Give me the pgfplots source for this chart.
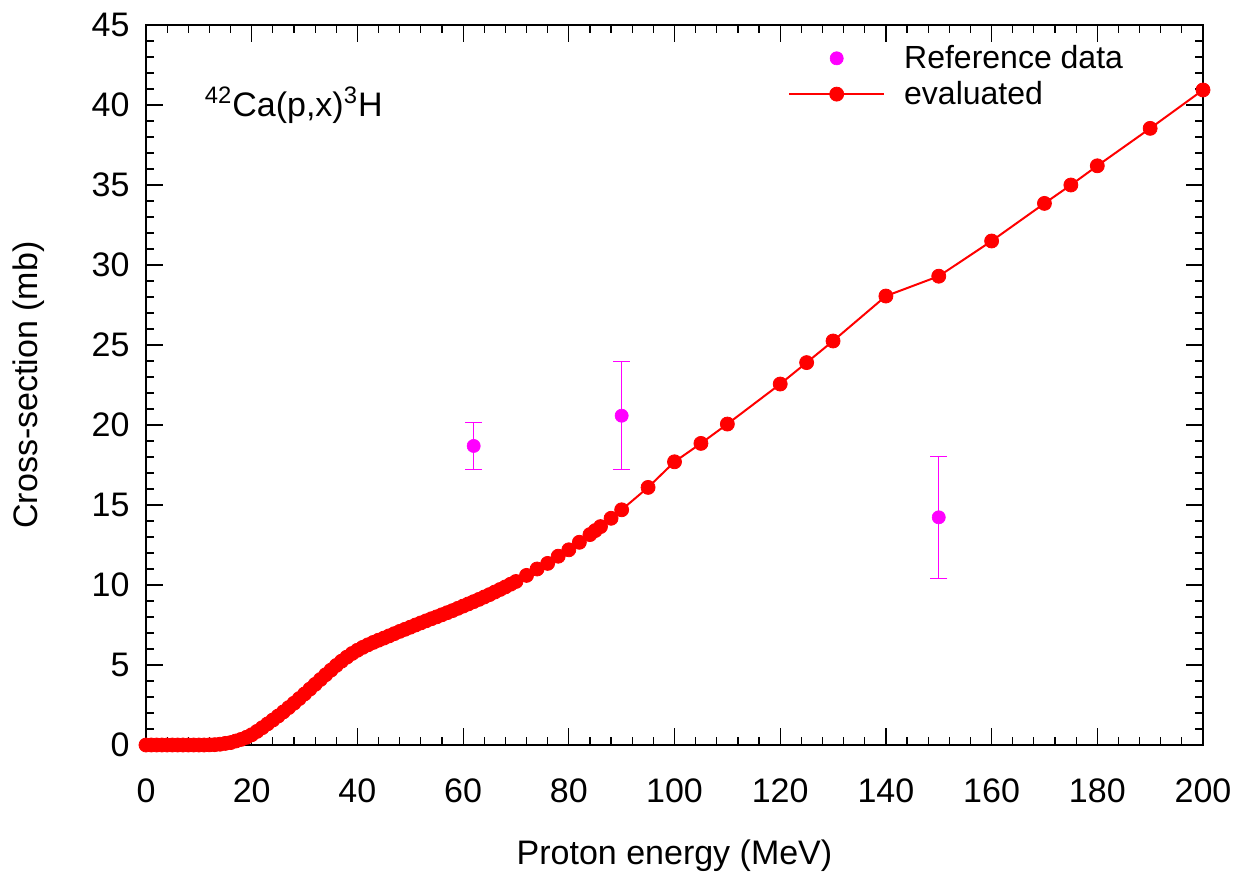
\documentclass[border=0pt]{standalone}
\usepackage{fontspec}
\setmainfont{Liberation Sans}
\usepackage{pgfplots}
\pgfplotsset{compat=1.18}
\definecolor{myred}{RGB}{255,0,0}
\definecolor{mymag}{RGB}{255,0,255}

\pgfplotstableread{
x y ep em
62 18.69 1.45 1.46
90 20.58 3.40 3.35
150 14.23 3.79 3.81
}\refdata

\pgfplotstableread{
x y
0 0.0
1 0.0
2 0.0
3 0.0
4 0.0
5 0.0
6 0.0
7 0.0
8 0.0
9 0.0
10 0.0
11 0.0
12 0.01
13 0.02
14 0.05
15 0.1
16 0.15
17 0.25
18 0.35
19 0.48
20 0.64
21 0.85
22 1.08
23 1.32
24 1.56
25 1.81
26 2.07
27 2.34
28 2.61
29 2.9
30 3.19
31 3.49
32 3.79
33 4.09
34 4.39
35 4.68
36 4.97
37 5.24
38 5.49
39 5.72
40 5.92
41 6.1
42 6.26
43 6.41
44 6.55
45 6.68
46 6.82
47 6.96
48 7.1
49 7.23
50 7.36
51 7.5
52 7.63
53 7.76
54 7.89
55 8.01
56 8.14
57 8.27
58 8.4
59 8.54
60 8.68
61 8.82
62 8.96
63 9.1
64 9.25
65 9.4
66 9.56
67 9.72
68 9.88
69 10.05
70 10.22
72 10.6
74 11.0
76 11.35
78 11.8
80 12.2
82 12.67
84 13.15
85 13.4
86 13.65
88 14.17
90 14.7
95 16.1
100 17.7
105 18.85
110 20.06
120 22.56
125 23.9
130 25.25
140 28.06
150 29.3
160 31.5
170 33.85
175 35.0
180 36.2
190 38.54
200 40.94
}\evaldata

\begin{document}
\begin{tikzpicture}
\useasboundingbox (-73pt,-66pt) rectangle (553pt,372.5pt);
\begin{axis}[
  at={(0,0)}, anchor=south west,
  scale only axis, width=528.5pt, height=360pt,
  xmin=0, xmax=200, ymin=0, ymax=45,
  xtick={0,20,...,200}, ytick={0,5,...,45},
  minor x tick num=4, minor y tick num=4,
  tick align=inside,
  major tick length=8.5pt, minor tick length=4pt,
  axis line style={line width=0.8pt},
  every tick/.style={line width=0.6pt, black},
  clip=false,
  /pgf/number format/assume math mode=true,
  ticklabel style={font=\fontsize{17}{20}\selectfont},
  xticklabel style={yshift=-13.5pt},
  yticklabel style={xshift=-4.7pt},
  xlabel={Proton energy (MeV)}, ylabel={Cross-section (mb)},
  label style={font=\fontsize{17}{20}\selectfont},
  xlabel style={at={(axis description cs:0.5,-0.1653)}, anchor=base},
  ylabel style={at={(axis description cs:-0.1031,0.5)}, anchor=base},
  legend style={at={(axis description cs:0.6072,0.978)}, anchor=north west,
    draw=none, fill=none, inner sep=0pt, column sep=7.5pt, row sep=0.8pt,
    font=\fontsize{16}{19}\selectfont},
  legend cell align=left,
  legend image code/.code={\draw[mark repeat=2,mark phase=2,#1] plot coordinates {(0pt,0pt) (23.75pt,0pt) (47.5pt,0pt)};},
]
\addplot[only marks, mark=*, mark size=3.3pt, color=mymag,
  mark options={fill=mymag, draw=mymag, line width=0.3pt},
  error bars/.cd, y dir=both, y explicit,
  error bar style={line width=0.7pt, color=mymag, solid},
  error mark options={rotate=90, mark size=4.25pt, line width=0.7pt, color=mymag, solid}]
  table[x=x, y=y, y error plus=ep, y error minus=em] {\refdata};
\addlegendentry{Reference data}
\addplot[color=myred, line width=1pt, mark=*, mark size=3.5pt,
  mark options={fill=myred, draw=myred, line width=0.4pt}]
  table[x=x, y=y] {\evaldata};
\addlegendentry{evaluated}
\node[anchor=base west, font=\fontsize{17}{20}\selectfont] at (axis cs:9.8,39.3) {\textsuperscript{42}Ca(p,x)\textsuperscript{3}H};
\end{axis}
\end{tikzpicture}
\end{document}
